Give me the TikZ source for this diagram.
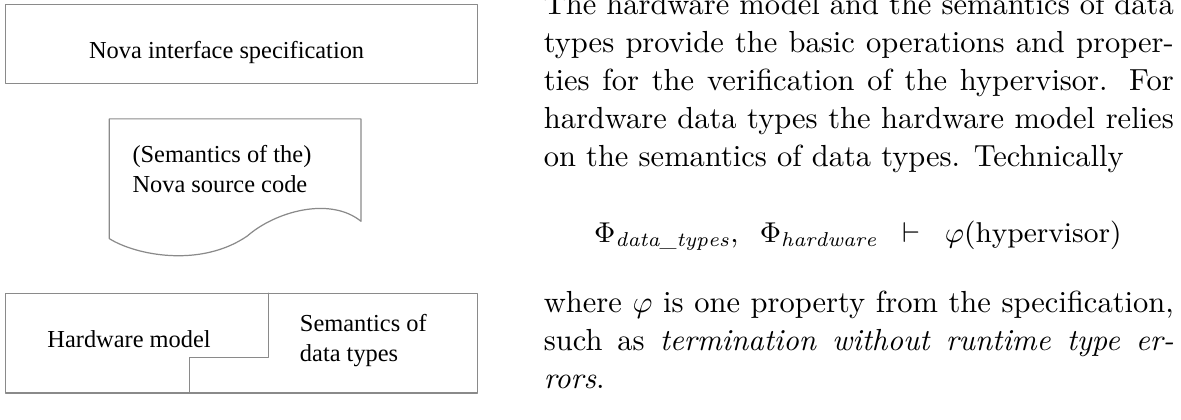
\RequirePackage{fix-cm}
\documentclass[tikz,border=0pt]{standalone}
\usepackage{fontspec}
\usepackage{amsmath,amssymb}
\usepackage{tikz}
\usetikzlibrary{positioning}
\newfontfamily\figfont{Liberation Serif}
\definecolor{nvline}{HTML}{8A8A8A}

\begin{document}
\begin{tikzpicture}[
  x=1cm, y=1cm,
  line cap=round, line join=round,
  panel/.style={draw=nvline, line width=0.4pt},
  lbl/.style={font=\figfont\fontsize{8}{9.8}\selectfont, anchor=base west, inner sep=0pt, align=left},
  para/.style={font=\fontsize{10}{12.46}\selectfont, text width=7.26cm, align=justify,
               anchor=base west, inner sep=0pt},
]
\useasboundingbox (0,0) rectangle (13.61,4.83);

% left: interface box
\draw[panel] (0.06,3.87) rectangle (5.50,4.78);
\node[lbl] (spec) at (1.02,4.16) {Nova interface specification};

% left: source code as a document sheet
\draw[panel] (1.26,2.08) -- (1.26,3.46) -- (4.16,3.46) -- (4.16,2.28)
  .. controls (3.80,2.57) and (3.17,2.39) .. (2.85,2.11)
  .. controls (2.31,1.74) and (1.56,1.89) .. (1.26,2.08);
\node[lbl] (src) at (1.52,2.61) {(Semantics of the)\\Nova source code};

% left: hardware model and data types, one box with a step
\draw[panel] (0.06,0.30) rectangle (5.50,1.45);
\draw[panel] (3.09,1.45) -- (3.09,0.71) -- (2.18,0.71) -- (2.18,0.30);
\node[lbl] (hw) at (0.54,0.83) {Hardware model};
\node[lbl] (dt) at (3.45,0.66) {Semantics of\\data types};

% right: running text
\node[para] (txta) at (6.26,4.66) {The hardware model and the semantics of data\linebreak
  types provide the basic operations and proper-\linebreak
  ties for the verification of the hypervisor.  For\linebreak
  hardware data types the hardware model relies\linebreak
  on the semantics of data types.  Technically};
\node[font=\fontsize{9.4}{11.5}\selectfont, anchor=base west, inner sep=0pt] (eqn) at (6.84,2.04)
  {$\Phi_{\mathit{data\_types}},\;\; \Phi_{\mathit{hardware}}\;\;\vdash\;\;\varphi(\mathrm{hypervisor})$};
\node[para] (txtb) at (6.26,1.23) {where $\varphi$ is one property from the specification,\linebreak
  such as \emph{termination without runtime type er-\linebreak rors}.};
\end{tikzpicture}
\end{document}
